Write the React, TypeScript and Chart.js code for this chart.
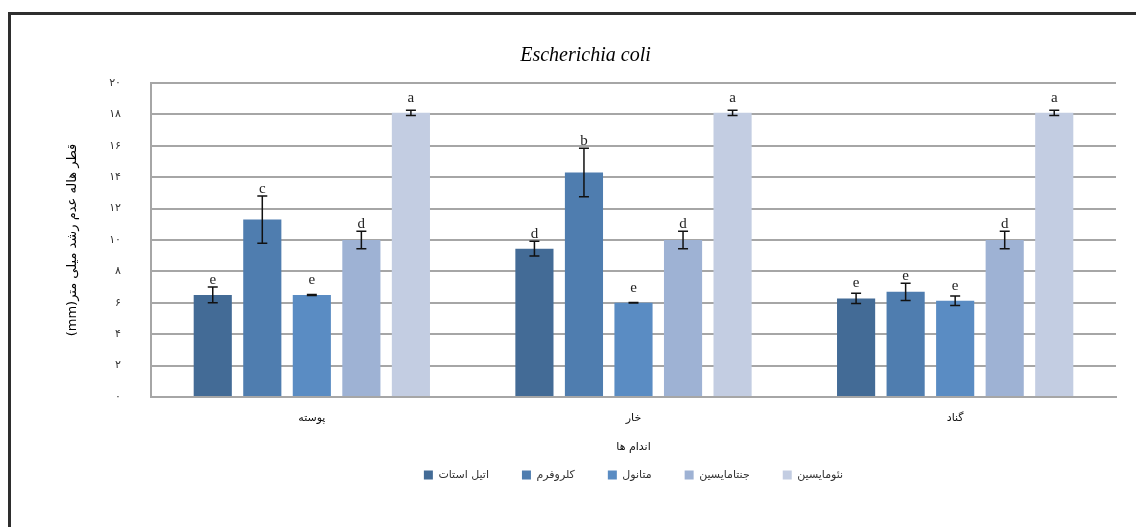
import React, { useEffect, useRef } from 'react';
import { Chart, registerables } from 'chart.js';

Chart.register(...registerables);

const categories = ['پوسته', 'خار', 'گناد'];
const seriesNames = ['اتیل استات', 'کلروفرم', 'متانول', 'جنتامایسین', 'نئومایسین'];

const ethylAcetate = [6.5, 9.45, 6.28];
const chloroform = [11.3, 14.3, 6.7];
const methanol = [6.5, 6.0, 6.13];
const gentamicin = [10, 10, 10];
const neomycin = [18.1, 18.1, 18.1];

const ethylAcetateErr = [0.5, 0.47, 0.33];
const chloroformErr = [1.5, 1.55, 0.55];
const methanolErr = [0.03, 0.02, 0.3];
const gentamicinErr = [0.55, 0.55, 0.55];
const neomycinErr = [0.17, 0.17, 0.17];

const ethylAcetateLetters = ['e', 'd', 'e'];
const chloroformLetters = ['c', 'b', 'e'];
const methanolLetters = ['e', 'e', 'e'];
const gentamicinLetters = ['d', 'd', 'd'];
const neomycinLetters = ['a', 'a', 'a'];

const yTickLabels = ['۰', '۲', '۴', '۶', '۸', '۱۰', '۱۲', '۱۴', '۱۶', '۱۸', '۲۰'];

const chartTitle = 'Escherichia coli';
const yAxisTitle = 'قطر هاله عدم رشد میلی متر(mm)';
const xAxisTitle = 'اندام ها';

const seriesValues = [ethylAcetate, chloroform, methanol, gentamicin, neomycin];
const seriesErrors = [ethylAcetateErr, chloroformErr, methanolErr, gentamicinErr, neomycinErr];
const seriesLetters = [ethylAcetateLetters, chloroformLetters, methanolLetters, gentamicinLetters, neomycinLetters];
const seriesColors = ['#436B96', '#4F7DAF', '#5A8CC3', '#9EB2D4', '#C3CDE2'];

const errorBarPlugin = {
  id: 'errorBars',
  afterDatasetsDraw(chart: any) {
    const ctx = chart.ctx;
    const y = chart.scales.y;
    ctx.save();
    chart.data.datasets.forEach((_ds: any, d: number) => {
      const meta = chart.getDatasetMeta(d);
      meta.data.forEach((bar: any, i: number) => {
        const v = seriesValues[d][i];
        const e = seriesErrors[d][i];
        const yt = y.getPixelForValue(v + e);
        const yb = y.getPixelForValue(v - e);
        const top = y.getPixelForValue(v);
        ctx.strokeStyle = '#111';
        ctx.lineWidth = 1.5;
        ctx.beginPath();
        ctx.moveTo(bar.x, yt);
        ctx.lineTo(bar.x, yb);
        ctx.moveTo(bar.x - 5, yt);
        ctx.lineTo(bar.x + 5, yt);
        ctx.moveTo(bar.x - 5, yb);
        ctx.lineTo(bar.x + 5, yb);
        ctx.stroke();
        const cy = Math.min(top - 15, yt - 7);
        ctx.fillStyle = '#222';
        ctx.font = '15px "Liberation Serif"';
        ctx.textAlign = 'center';
        ctx.textBaseline = 'alphabetic';
        ctx.fillText(seriesLetters[d][i], bar.x, cy + 4);
      });
    });
    ctx.restore();
  },
};

export default function App() {
  const canvasRef = useRef<HTMLCanvasElement | null>(null);

  useEffect(() => {
    if (!canvasRef.current) return;
    const chart = new Chart(canvasRef.current, {
      type: 'bar',
      data: {
        labels: categories,
        datasets: seriesNames.map((name, d) => ({
          label: name,
          data: seriesValues[d],
          backgroundColor: seriesColors[d],
          borderWidth: 0,
          categoryPercentage: 0.77,
          barPercentage: 0.77,
        })),
      },
      options: {
        animation: false,
        responsive: false,
        devicePixelRatio: 1,
        layout: { padding: { top: 44, left: 55, right: 20, bottom: 36.5 } },
        plugins: {
          title: {
            display: true,
            text: chartTitle,
            color: '#000',
            font: { family: '"Liberation Serif"', style: 'italic', size: 20, weight: 'normal' },
            padding: { top: 0, bottom: 15 },
          },
          legend: {
            position: 'bottom',
            fullSize: false,
            labels: {
              boxWidth: 9,
              boxHeight: 9,
              padding: 33,
              color: '#333',
              font: { family: '"DejaVu Sans"', size: 11 },
            },
          },
          tooltip: { enabled: false },
        },
        scales: {
          x: {
            grid: { display: false, drawTicks: false },
            border: { display: true, color: '#a6a6a6', width: 2 },
            ticks: { color: '#111', padding: 15, font: { family: '"DejaVu Sans"', size: 11 } },
            title: {
              display: true,
              text: xAxisTitle,
              color: '#111',
              font: { family: '"DejaVu Sans"', size: 11 },
              padding: { top: 0, bottom: -16.8 },
            },
            afterFit: (s: any) => { s.height = 39.5; },
          },
          y: {
            min: 0,
            max: 20,
            grid: { color: '#a6a6a6', lineWidth: 2, drawTicks: false },
            border: { display: true, color: '#a6a6a6', width: 2 },
            ticks: {
              stepSize: 2,
              padding: 30,
              color: '#333',
              font: { family: '"DejaVu Sans"', size: 11 },
              callback: (_v: any, i: number) => yTickLabels[i],
            },
            title: {
              display: true,
              text: yAxisTitle,
              color: '#000',
              font: { family: '"DejaVu Sans"', size: 13 },
              padding: { top: 9.5, bottom: 0 },
            },
            afterFit: (s: any) => { s.width = 96; },
          },
        },
      },
      plugins: [errorBarPlugin],
    } as any);
    return () => chart.destroy();
  }, []);

  return (
    <div style={{ position: 'absolute', left: 0, top: 0, width: 1136, height: 527, overflow: 'hidden', background: '#fff' }}>
      <div
        style={{
          position: 'absolute',
          left: 8,
          top: 12,
          width: 1300,
          height: 700,
          borderLeft: '3px solid #2e2e2e',
          borderTop: '3px solid #2e2e2e',
        }}
      />
      <canvas
        ref={canvasRef}
        width={1136}
        height={527}
        style={{ position: 'absolute', left: 0, top: 0, width: 1136, height: 527, direction: 'rtl' }}
      />
    </div>
  );
}
